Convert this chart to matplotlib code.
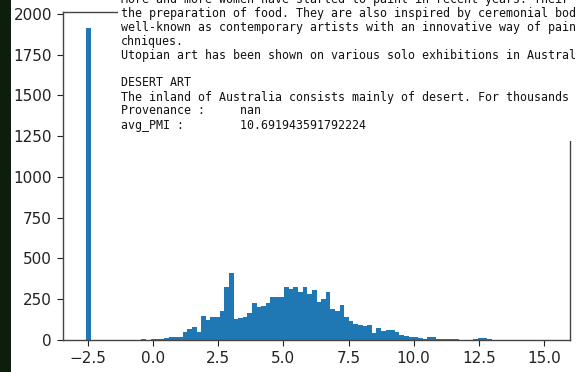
import numpy as np
import matplotlib
matplotlib.use("Agg")
import matplotlib.pyplot as plt
from matplotlib.patches import Rectangle

# Histogram of avg_PMI scores: 100 equal-width bins over the data range
bin_lo, bin_hi, n_bins = -2.58, 15.12, 100
counts = [
    1915, 0, 0, 0, 0, 0, 0, 0, 0, 0,
    0, 0, 8, 1, 5, 8, 8, 10, 16, 16,
    18, 47, 67, 77, 47, 146, 122, 140, 140, 178,
    322, 413, 131, 133, 139, 167, 225, 200, 208, 228,
    262, 262, 262, 327, 310, 327, 295, 325, 280, 306,
    230, 250, 293, 192, 178, 212, 141, 118, 96, 94,
    88, 95, 45, 71, 55, 63, 60, 50, 33, 22,
    20, 16, 15, 9, 18, 17, 8, 8, 8, 7,
    6, 2, 1, 2, 9, 10, 10, 9, 1, 0,
    0, 0, 0, 0, 0, 0, 0, 0, 0, 1,
]

# Printed record that sits over the top of the plot
record_lines = [
    "More and more women have started to paint in recent years. Their",
    "the preparation of food. They are also inspired by ceremonial bod",
    "well-known as contemporary artists with an innovative way of pain",
    "chniques.",
    "Utopian art has been shown on various solo exhibitions in Austral",
    "",
    "DESERT ART",
    "The inland of Australia consists mainly of desert. For thousands",
    "Provenance :     nan",
    "avg_PMI :        10.691943591792224",
]

W, H = 578, 372
fig = plt.figure(figsize=(W / 100, H / 100), dpi=100)
fig.patch.set_facecolor("white")

ax = fig.add_axes([63 / W, (H - 340) / H, (570 - 63) / W, (340 - 12) / H])
edges = np.linspace(bin_lo, bin_hi, n_bins + 1)
centers = 0.5 * (edges[:-1] + edges[1:])
ax.hist(centers, bins=edges, weights=counts, color="#1f77b4")

ax.set_xticks([-2.5, 0.0, 2.5, 5.0, 7.5, 10.0, 12.5, 15.0])
ax.set_yticks([0, 250, 500, 750, 1000, 1250, 1500, 1750, 2000])
ax.tick_params(labelsize=11, colors="#222222", length=4.5)
for sp in ax.spines.values():
    sp.set_color("#444444")
    sp.set_linewidth(1.0)

# dark strip along the left edge
fig.patches.append(Rectangle((0, 0), 11 / W, 1, transform=fig.transFigure,
                             facecolor="#0c1f0c", edgecolor="none", zorder=5))

# white output box with the record text
fig.patches.append(Rectangle((118 / W, 1 - 141 / H), 1 - 118 / W, 141 / H,
                             transform=fig.transFigure, facecolor="white",
                             edgecolor="none", zorder=5))
for k, line in enumerate(record_lines):
    if not line:
        continue
    baseline = 2.5 + 14 * k
    fig.text(121 / W, 1 - baseline / H, line, family="DejaVu Sans Mono",
             fontsize=8.4, color="#111111", va="baseline", ha="left", zorder=6)

fig.savefig("out.png", dpi=100)
